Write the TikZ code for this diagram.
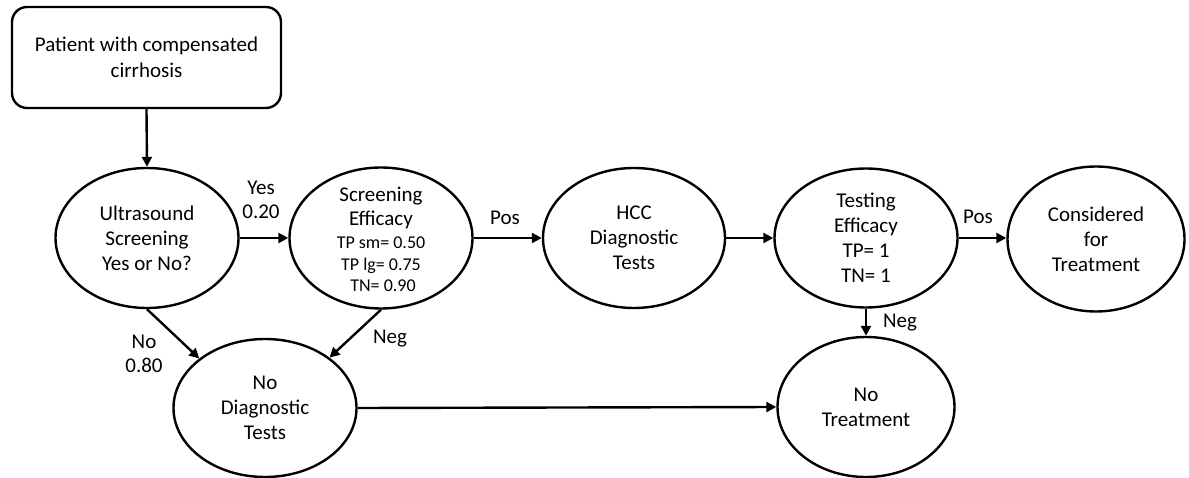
\documentclass[tikz,border=0pt]{standalone}
\usepackage{fontspec}
\setmainfont{Carlito}
\usetikzlibrary{arrows.meta,shapes.geometric}
\begin{document}
\begin{tikzpicture}[x=1pt,y=-1pt,
  ell/.style={ellipse,draw,line width=2.4pt,inner sep=0pt,align=center,font=\fontsize{21}{25}\selectfont},
  startbox/.style={rectangle,draw,line width=2.4pt,rounded corners=15pt,inner sep=0pt,align=center,font=\fontsize{21}{26}\selectfont},
  arr/.style={line width=2.4pt,-{Triangle[length=10pt,width=10pt]}},
  lbl/.style={font=\fontsize{21}{24}\selectfont,align=center,inner sep=0pt},
  small/.style={font=\fontsize{18}{21.5}\selectfont}]
\useasboundingbox (0,0) rectangle (1189,478);

\node[startbox,minimum width=269pt,minimum height=101pt] (start) at (146.5,57.5) {Patient with compensated\\cirrhosis};

\node[ell,minimum width=183pt,minimum height=140pt] (us) at (147,238) {Ultrasound\\Screening\\Yes or No?};
\node[ell,minimum width=183pt,minimum height=141pt] (se) at (381,238) {};
\node[lbl,anchor=center] (setxt1) at (381,207.5) {Screening\\Efficacy};
\node[lbl,small,anchor=center] (setxt2) at (381,264.5) {TP sm= 0.50\\TP lg= 0.75\\\hspace*{4pt}TN= 0.90};
\node[ell,minimum width=182pt,minimum height=140pt] (hcc) at (634,238) {HCC\\Diagnostic\\Tests};
\node[ell,minimum width=183pt,minimum height=139pt] (te) at (866,238) {Testing\\Efficacy\\TP= 1\\TN= 1};
\node[ell,minimum width=177pt,minimum height=145pt] (cons) at (1096,239) {Considered\\for\\Treatment};
\node[ell,minimum width=183pt,minimum height=138pt] (nd) at (265,408) {No\\Diagnostic\\Tests};
\node[ell,minimum width=177pt,minimum height=140pt] (nt) at (866,407) {No\\Treatment};

\draw[arr] (start.south) -- (us.north);
\draw[arr] (us.east) -- (se.west);
\draw[arr] (us.south) -- (nd.143);
\draw[arr] (se.south) -- (nd.38);
\draw[arr] (se.east) -- (hcc.west);
\draw[arr] (hcc.east) -- (te.west);
\draw[arr] (te.east) -- (te.east -| cons.west);
\draw[arr] (te.south) -- (nt.north);
\draw[arr] (nd.east) -- (nt.west);

\node[lbl] (lyes) at (261,200) {Yes\\0.20};
\node[lbl] (lno) at (144,354) {No\\0.80};
\node[lbl] (lneg1) at (390,339) {Neg};
\node[lbl] (lpos1) at (505,218) {Pos};
\node[lbl] (lpos2) at (978,217) {Pos};
\node[lbl] (lneg2) at (900,323) {Neg};
\end{tikzpicture}
\end{document}
